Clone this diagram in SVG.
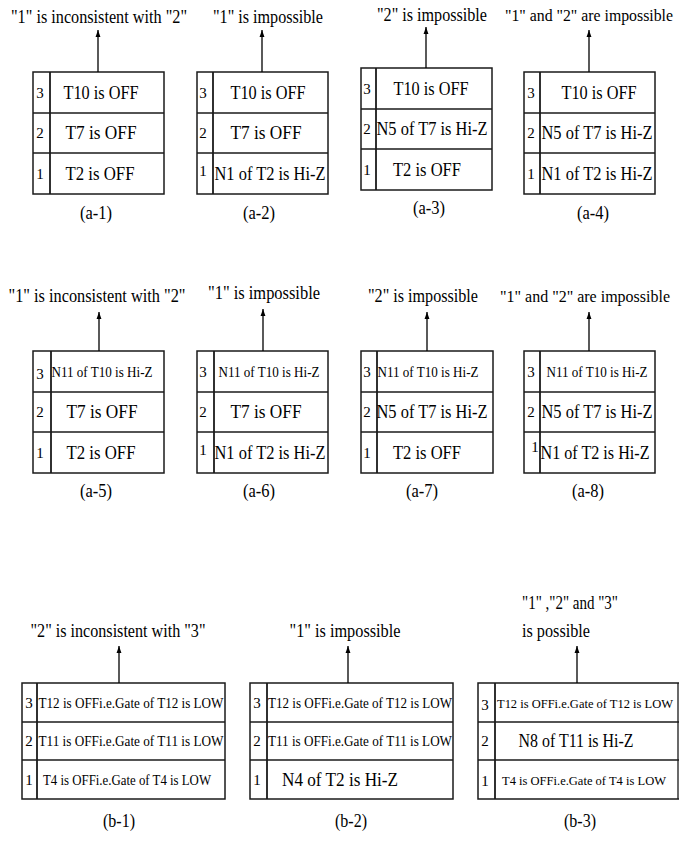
<svg xmlns="http://www.w3.org/2000/svg" width="679" height="850" viewBox="0 0 679 850">
<style>
  .bg{fill:#fff}
  .box{fill:none;stroke:#1a1a1a;stroke-width:1.5}
  .ln{stroke:#1a1a1a;stroke-width:1.3}
  .dv{stroke:#1a1a1a;stroke-width:1.8}
  text{font-family:"Liberation Serif","Times New Roman",serif;fill:#000;text-anchor:middle}
  .ti{font-size:18px}
  .tn{font-size:16.5px}
  .lb{font-size:18px}
  .n{font-size:15px}
  .c{font-size:18px}
  .s{font-size:14.5px}
  .sn{font-size:13px}
  .l{font-size:19px}
  .st{text-anchor:start}
  .arr{stroke:#000;stroke-width:1.3;fill:none;marker-end:url(#ah)}
</style>
<defs>
  <marker id="ah" viewBox="0 0 10 10" refX="10" refY="5" markerWidth="7" markerHeight="7" markerUnits="userSpaceOnUse" orient="auto">
    <path d="M0,1.5 L10,5 L0,8.5 z" fill="#000"/>
  </marker>
</defs>
<rect class="bg" x="0" y="0" width="679" height="850"/>

<!-- Row A -->
<g id="a1">
  <text class="ti" x="99" y="23" textLength="176" lengthAdjust="spacingAndGlyphs">"1" is inconsistent with "2"</text>
  <rect class="box" x="33" y="72" width="131" height="122"/>
  <line class="ln" x1="33" y1="113" x2="164" y2="113"/>
  <line class="ln" x1="33" y1="153" x2="164" y2="153"/>
  <line class="dv" x1="50" y1="72" x2="50" y2="194"/>
  <text class="n" x="40" y="98">3</text>
  <text class="n" x="40" y="138">2</text>
  <text class="n" x="40" y="179">1</text>
  <text class="c" x="101" y="99" textLength="75" lengthAdjust="spacingAndGlyphs">T10 is OFF</text>
  <text class="c" x="101" y="139" textLength="71" lengthAdjust="spacingAndGlyphs">T7 is OFF</text>
  <text class="c" x="100" y="180" textLength="69" lengthAdjust="spacingAndGlyphs">T2 is OFF</text>
  <text class="lb" x="96" y="219" textLength="32" lengthAdjust="spacingAndGlyphs">(a-1)</text>
</g>
<g id="a2">
  <text class="ti" x="268" y="23" textLength="110" lengthAdjust="spacingAndGlyphs">"1" is impossible</text>
  <rect class="box" x="197" y="72" width="131" height="122"/>
  <line class="ln" x1="197" y1="113" x2="328" y2="113"/>
  <line class="ln" x1="197" y1="153" x2="328" y2="153"/>
  <line class="dv" x1="213" y1="72" x2="213" y2="194"/>
  <text class="n" x="203" y="98">3</text>
  <text class="n" x="203" y="138">2</text>
  <text class="n" x="203" y="176">1</text>
  <text class="c" x="268" y="99" textLength="75" lengthAdjust="spacingAndGlyphs">T10 is OFF</text>
  <text class="c" x="266" y="139" textLength="71" lengthAdjust="spacingAndGlyphs">T7 is OFF</text>
  <text class="c" x="270" y="180" textLength="111" lengthAdjust="spacingAndGlyphs">N1 of T2 is Hi-Z</text>
  <text class="lb" x="259" y="219" textLength="32" lengthAdjust="spacingAndGlyphs">(a-2)</text>
</g>
<g id="a3">
  <text class="ti" x="432" y="21" textLength="110" lengthAdjust="spacingAndGlyphs">"2" is impossible</text>
  <rect class="box" x="361" y="68" width="131" height="122"/>
  <line class="ln" x1="361" y1="109" x2="492" y2="109"/>
  <line class="ln" x1="361" y1="149" x2="492" y2="149"/>
  <line class="dv" x1="376" y1="68" x2="376" y2="190"/>
  <text class="n" x="367" y="94">3</text>
  <text class="n" x="367" y="134">2</text>
  <text class="n" x="367" y="175">1</text>
  <text class="c" x="431" y="95" textLength="75" lengthAdjust="spacingAndGlyphs">T10 is OFF</text>
  <text class="c" x="432" y="135" textLength="111" lengthAdjust="spacingAndGlyphs">N5 of T7 is Hi-Z</text>
  <text class="c" x="427" y="176" textLength="68" lengthAdjust="spacingAndGlyphs">T2 is OFF</text>
  <text class="lb" x="429" y="214" textLength="32" lengthAdjust="spacingAndGlyphs">(a-3)</text>
</g>
<g id="a4">
  <text class="tn" x="589" y="21" textLength="168" lengthAdjust="spacingAndGlyphs">"1" and "2" are impossible</text>
  <rect class="box" x="524" y="72" width="131" height="122"/>
  <line class="ln" x1="524" y1="113" x2="655" y2="113"/>
  <line class="ln" x1="524" y1="153" x2="655" y2="153"/>
  <line class="dv" x1="540" y1="72" x2="540" y2="194"/>
  <text class="n" x="531" y="98">3</text>
  <text class="n" x="531" y="138">2</text>
  <text class="n" x="531" y="179">1</text>
  <text class="c" x="599" y="99" textLength="75" lengthAdjust="spacingAndGlyphs">T10 is OFF</text>
  <text class="c" x="597" y="139" textLength="111" lengthAdjust="spacingAndGlyphs">N5 of T7 is Hi-Z</text>
  <text class="c" x="597" y="180" textLength="111" lengthAdjust="spacingAndGlyphs">N1 of T2 is Hi-Z</text>
  <text class="lb" x="593" y="219" textLength="32" lengthAdjust="spacingAndGlyphs">(a-4)</text>
</g>

<!-- Row B -->
<g id="a5">
  <text class="ti" x="97" y="302" textLength="177" lengthAdjust="spacingAndGlyphs">"1" is inconsistent with "2"</text>
  <rect class="box" x="33" y="351" width="131" height="122"/>
  <line class="ln" x1="33" y1="392" x2="164" y2="392"/>
  <line class="ln" x1="33" y1="432" x2="164" y2="432"/>
  <line class="dv" x1="51" y1="351" x2="51" y2="473"/>
  <text class="n" x="40" y="379">3</text>
  <text class="n" x="40" y="417">2</text>
  <text class="n" x="40" y="458">1</text>
  <text class="s" x="102" y="377" textLength="101" lengthAdjust="spacingAndGlyphs">N11 of T10 is Hi-Z</text>
  <text class="c" x="102" y="418" textLength="71" lengthAdjust="spacingAndGlyphs">T7 is OFF</text>
  <text class="c" x="101" y="459" textLength="69" lengthAdjust="spacingAndGlyphs">T2 is OFF</text>
  <text class="lb" x="96" y="497" textLength="32" lengthAdjust="spacingAndGlyphs">(a-5)</text>
</g>
<g id="a6">
  <text class="ti" x="264" y="299" textLength="112" lengthAdjust="spacingAndGlyphs">"1" is impossible</text>
  <rect class="box" x="197" y="351" width="131" height="122"/>
  <line class="ln" x1="197" y1="392" x2="328" y2="392"/>
  <line class="ln" x1="197" y1="432" x2="328" y2="432"/>
  <line class="dv" x1="214" y1="351" x2="214" y2="473"/>
  <text class="n" x="203" y="377">3</text>
  <text class="n" x="203" y="417">2</text>
  <text class="n" x="203" y="455">1</text>
  <text class="s" x="269" y="377" textLength="101" lengthAdjust="spacingAndGlyphs">N11 of T10 is Hi-Z</text>
  <text class="c" x="266" y="418" textLength="71" lengthAdjust="spacingAndGlyphs">T7 is OFF</text>
  <text class="c" x="270" y="459" textLength="111" lengthAdjust="spacingAndGlyphs">N1 of T2 is Hi-Z</text>
  <text class="lb" x="259" y="497" textLength="32" lengthAdjust="spacingAndGlyphs">(a-6)</text>
</g>
<g id="a7">
  <text class="ti" x="423" y="302" textLength="110" lengthAdjust="spacingAndGlyphs">"2" is impossible</text>
  <rect class="box" x="361" y="351" width="132" height="122"/>
  <line class="ln" x1="361" y1="392" x2="493" y2="392"/>
  <line class="ln" x1="361" y1="432" x2="493" y2="432"/>
  <line class="dv" x1="377" y1="351" x2="377" y2="473"/>
  <text class="n" x="367" y="377">3</text>
  <text class="n" x="367" y="417">2</text>
  <text class="n" x="367" y="458">1</text>
  <text class="s" x="428" y="377" textLength="101" lengthAdjust="spacingAndGlyphs">N11 of T10 is Hi-Z</text>
  <text class="c" x="432" y="418" textLength="111" lengthAdjust="spacingAndGlyphs">N5 of T7 is Hi-Z</text>
  <text class="c" x="427" y="459" textLength="68" lengthAdjust="spacingAndGlyphs">T2 is OFF</text>
  <text class="lb" x="422" y="497" textLength="32" lengthAdjust="spacingAndGlyphs">(a-7)</text>
</g>
<g id="a8">
  <text class="tn" x="585" y="302" textLength="170" lengthAdjust="spacingAndGlyphs">"1" and "2" are impossible</text>
  <rect class="box" x="524" y="351" width="131" height="122"/>
  <line class="ln" x1="524" y1="392" x2="655" y2="392"/>
  <line class="ln" x1="524" y1="432" x2="655" y2="432"/>
  <line class="dv" x1="540" y1="351" x2="540" y2="473"/>
  <text class="n" x="531" y="377">3</text>
  <text class="n" x="531" y="417">2</text>
  <text class="n" x="535" y="452">1</text>
  <text class="s" x="597" y="377" textLength="101" lengthAdjust="spacingAndGlyphs">N11 of T10 is Hi-Z</text>
  <text class="c" x="597" y="418" textLength="111" lengthAdjust="spacingAndGlyphs">N5 of T7 is Hi-Z</text>
  <text class="c" x="595" y="459" textLength="109" lengthAdjust="spacingAndGlyphs">N1 of T2 is Hi-Z</text>
  <text class="lb" x="588" y="497" textLength="32" lengthAdjust="spacingAndGlyphs">(a-8)</text>
</g>

<!-- Row C -->
<g id="b1">
  <text class="ti" x="118" y="637" textLength="175" lengthAdjust="spacingAndGlyphs">"2" is inconsistent with "3"</text>
  <rect class="box" x="22" y="683" width="203" height="116"/>
  <line class="ln" x1="22" y1="722" x2="225" y2="722"/>
  <line class="ln" x1="22" y1="760" x2="225" y2="760"/>
  <line class="dv" x1="37" y1="683" x2="37" y2="799"/>
  <text class="n" x="29" y="708">3</text>
  <text class="n" x="29" y="746">2</text>
  <text class="n" x="29" y="785">1</text>
  <text class="s" x="131" y="708" textLength="185" lengthAdjust="spacingAndGlyphs">T12 is OFFi.e.Gate of T12 is LOW</text>
  <text class="s" x="131" y="746" textLength="185" lengthAdjust="spacingAndGlyphs">T11 is OFFi.e.Gate of T11 is LOW</text>
  <text class="s" x="127" y="785" textLength="168" lengthAdjust="spacingAndGlyphs">T4 is OFFi.e.Gate of T4 is LOW</text>
  <text class="lb" x="119" y="827" textLength="32" lengthAdjust="spacingAndGlyphs">(b-1)</text>
</g>
<g id="b2">
  <text class="ti" x="345" y="637" textLength="111" lengthAdjust="spacingAndGlyphs">"1" is impossible</text>
  <rect class="box" x="250" y="683" width="203" height="116"/>
  <line class="ln" x1="250" y1="722" x2="453" y2="722"/>
  <line class="ln" x1="250" y1="760" x2="453" y2="760"/>
  <line class="dv" x1="267" y1="683" x2="267" y2="799"/>
  <text class="n" x="257" y="708">3</text>
  <text class="n" x="257" y="746">2</text>
  <text class="n" x="257" y="785">1</text>
  <text class="s" x="360" y="708" textLength="184" lengthAdjust="spacingAndGlyphs">T12 is OFFi.e.Gate of T12 is LOW</text>
  <text class="s" x="360" y="746" textLength="184" lengthAdjust="spacingAndGlyphs">T11 is OFFi.e.Gate of T11 is LOW</text>
  <text class="l" x="340" y="786" textLength="116" lengthAdjust="spacingAndGlyphs">N4 of T2 is Hi-Z</text>
  <text class="lb" x="351" y="827" textLength="32" lengthAdjust="spacingAndGlyphs">(b-2)</text>
</g>
<g id="b3">
  <text class="ti st" x="522" y="609" textLength="96" lengthAdjust="spacingAndGlyphs">"1" ,"2" and "3"</text>
  <text class="ti st" x="522" y="637" textLength="68" lengthAdjust="spacingAndGlyphs">is possible</text>
  <path class="box" d="M679,683 H478 V799 H679"/>
  <line class="ln" x1="678" y1="683" x2="678" y2="799"/>
  <line class="ln" x1="478" y1="722" x2="679" y2="722"/>
  <line class="ln" x1="478" y1="760" x2="679" y2="760"/>
  <line class="dv" x1="495" y1="683" x2="495" y2="799"/>
  <text class="n" x="485" y="710">3</text>
  <text class="n" x="485" y="746">2</text>
  <text class="n" x="485" y="786">1</text>
  <text class="sn" x="585" y="708" textLength="176" lengthAdjust="spacingAndGlyphs">T12 is OFFi.e.Gate of T12 is LOW</text>
  <text class="c" x="576" y="747" textLength="115" lengthAdjust="spacingAndGlyphs">N8 of T11 is Hi-Z</text>
  <text class="sn" x="584" y="785" textLength="164" lengthAdjust="spacingAndGlyphs">T4 is OFFi.e.Gate of T4 is LOW</text>
  <text class="lb" x="580" y="827" textLength="32" lengthAdjust="spacingAndGlyphs">(b-3)</text>
</g>

<!-- Connectors -->
<g id="connectors">
  <line class="arr" x1="98" y1="72" x2="98" y2="30"/>
  <line class="arr" x1="262" y1="72" x2="262" y2="30"/>
  <line class="arr" x1="426" y1="68" x2="426" y2="27"/>
  <line class="arr" x1="589" y1="72" x2="589" y2="30"/>
  <line class="arr" x1="99" y1="351" x2="99" y2="312"/>
  <line class="arr" x1="263" y1="351" x2="263" y2="309"/>
  <line class="arr" x1="427" y1="351" x2="427" y2="312"/>
  <line class="arr" x1="589" y1="351" x2="589" y2="312"/>
  <line class="arr" x1="119" y1="683" x2="119" y2="646"/>
  <line class="arr" x1="348" y1="683" x2="348" y2="646"/>
  <line class="arr" x1="577" y1="683" x2="577" y2="646"/>
</g>
</svg>
